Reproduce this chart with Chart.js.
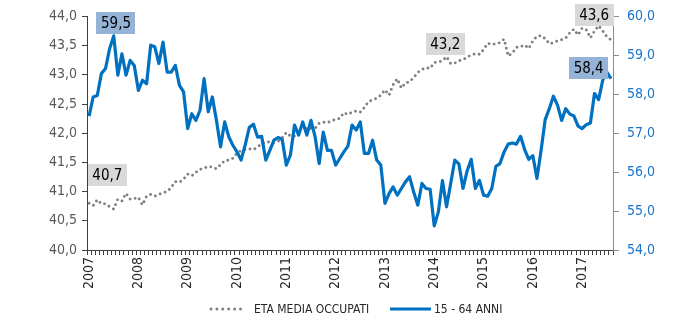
<!DOCTYPE html>
<html>
<head>
<meta charset="utf-8">
<script src="https://cdn.jsdelivr.net/npm/chart.js@4"></script>
<style>
  html, body { margin: 0; padding: 0; background: #ffffff; }
  #wrap { width: 700px; height: 326px; }
</style>
</head>
<body>
<div id="wrap"><canvas id="chart" width="700" height="326"></canvas></div>
<script>
// Monthly series, January 2007 - August 2017
const years = ['2007','2008','2009','2010','2011','2012','2013','2014','2015','2016','2017'];
const lastMonthOfLastYear = 8;

// Età media degli occupati (left axis)
const etaMedia = [
  40.80, 40.76, 40.86, 40.79, 40.79, 40.74, 40.70, 40.87, 40.84, 40.97, 40.87, 40.88,
  40.90, 40.77, 40.92, 40.95, 40.92, 40.95, 40.98, 41.00, 41.07, 41.17, 41.16, 41.21,
  41.30, 41.27, 41.33, 41.38, 41.40, 41.43, 41.42, 41.39, 41.46, 41.53, 41.54, 41.57,
  41.66, 41.70, 41.72, 41.73, 41.72, 41.76, 41.82, 41.85, 41.85, 41.84, 41.86, 41.92,
  42.01, 41.95, 41.95, 42.07, 42.08, 42.08, 42.08, 42.08, 42.17, 42.19, 42.18, 42.21,
  42.24, 42.25, 42.35, 42.32, 42.36, 42.38, 42.36, 42.44, 42.54, 42.57, 42.60, 42.65,
  42.74, 42.65, 42.83, 42.93, 42.77, 42.86, 42.88, 42.95, 43.04, 43.09, 43.12, 43.11,
  43.21, 43.22, 43.24, 43.31, 43.19, 43.20, 43.24, 43.26, 43.30, 43.34, 43.36, 43.35,
  43.43, 43.54, 43.52, 43.53, 43.55, 43.61, 43.32, 43.37, 43.47, 43.48, 43.51, 43.45,
  43.58, 43.66, 43.67, 43.62, 43.53, 43.55, 43.58, 43.60, 43.63, 43.72, 43.78, 43.68,
  43.80, 43.77, 43.63, 43.75, 43.84, 43.75, 43.65, 43.60
];

// Tasso di occupazione 15-64 anni (right axis)
const occupati1564 = [
  57.44, 57.93, 57.97, 58.53, 58.66, 59.17, 59.50, 58.49, 59.04, 58.49, 58.87, 58.74,
  58.10, 58.36, 58.27, 59.26, 59.22, 58.79, 59.34, 58.57, 58.57, 58.74, 58.23, 58.06,
  57.12, 57.50, 57.33, 57.59, 58.40, 57.55, 57.93, 57.33, 56.65, 57.29, 56.91, 56.69,
  56.52, 56.31, 56.70, 57.15, 57.23, 56.90, 56.92, 56.31, 56.56, 56.82, 56.89, 56.84,
  56.18, 56.44, 57.21, 56.95, 57.29, 56.95, 57.33, 56.91, 56.22, 57.03, 56.56, 56.56,
  56.18, 56.35, 56.52, 56.67, 57.21, 57.08, 57.29, 56.48, 56.48, 56.82, 56.31, 56.18,
  55.20, 55.45, 55.62, 55.41, 55.58, 55.75, 55.88, 55.49, 55.15, 55.71, 55.58, 55.56,
  54.62, 54.98, 55.78, 55.11, 55.71, 56.31, 56.21, 55.58, 56.03, 56.33, 55.58, 55.79,
  55.41, 55.38, 55.58, 56.15, 56.22, 56.52, 56.72, 56.75, 56.72, 56.92, 56.58, 56.33,
  56.42, 55.84, 56.56, 57.35, 57.63, 57.95, 57.72, 57.33, 57.63, 57.49, 57.44, 57.18,
  57.12, 57.22, 57.26, 58.02, 57.86, 58.36, 58.57, 58.40
];

const leftTicks = [40.0, 40.5, 41.0, 41.5, 42.0, 42.5, 43.0, 43.5, 44.0];
const rightTicks = [54.0, 55.0, 56.0, 57.0, 58.0, 59.0, 60.0];
const seriesNames = ['ETA MEDIA OCCUPATI', '15 - 64 ANNI'];

// Month categories "YYYY-MM"
const categories = [];
years.forEach((y, yi) => {
  const n = yi === years.length - 1 ? lastMonthOfLastYear : 12;
  for (let m = 1; m <= n; m++) categories.push(y + '-' + String(m).padStart(2, '0'));
});

const FONT = "'Liberation Sans Narrow', 'Arial Narrow', 'DejaVu Sans Condensed', sans-serif";
const BLUE = '#0070C0';
const GREY = '#7F7F7F';
const fmt = v => v.toFixed(1).replace('.', ',');

// Callout boxes: dataset index, point index, offset of box centre, fill
const callouts = [
  { ds: 0, i: 6,   dx: 2.3,   dy: -12.5, fill: '#95B3D7' },
  { ds: 0, i: 127, dx: -22.3, dy: -10.4, fill: '#95B3D7' },
  { ds: 1, i: 6,   dx: -6.4,  dy: -34.4, fill: '#D9D9D9' },
  { ds: 1, i: 86,  dx: 2.8,   dy: -17,   fill: '#D9D9D9' },
  { ds: 1, i: 127, dx: -16.8, dy: -24.4, fill: '#D9D9D9' }
];

const calloutPlugin = {
  id: 'callouts',
  afterDatasetsDraw(chart) {
    const ctx = chart.ctx;
    ctx.save();
    ctx.font = '15px ' + FONT;
    ctx.textAlign = 'center';
    ctx.textBaseline = 'middle';
    callouts.forEach(c => {
      const pt = chart.getDatasetMeta(c.ds).data[c.i];
      const val = chart.data.datasets[c.ds].data[c.i];
      const txt = fmt(val);
      const w = Math.max(33, ctx.measureText(txt).width + 9);
      const h = 22;
      const cx = pt.x + c.dx, cy = pt.y + c.dy;
      ctx.fillStyle = c.fill;
      ctx.fillRect(Math.round(cx - w / 2), Math.round(cy - h / 2), Math.round(w), h);
      ctx.fillStyle = '#000000';
      ctx.fillText(txt, cx, cy + 1);
    });
    ctx.restore();
  }
};

const legendPlugin = {
  id: 'customLegend',
  afterDraw(chart) {
    const ctx = chart.ctx;
    const y = 309;
    ctx.save();
    // dotted sample
    ctx.strokeStyle = GREY;
    ctx.lineWidth = 3;
    ctx.lineCap = 'round';
    ctx.setLineDash([0, 5.9]);
    ctx.beginPath();
    ctx.moveTo(211, y);
    ctx.lineTo(243, y);
    ctx.stroke();
    // solid sample
    ctx.setLineDash([]);
    ctx.lineCap = 'butt';
    ctx.strokeStyle = BLUE;
    ctx.beginPath();
    ctx.moveTo(390, y);
    ctx.lineTo(431, y);
    ctx.stroke();
    ctx.fillStyle = '#262626';
    ctx.font = '12px ' + FONT;
    ctx.textBaseline = 'middle';
    ctx.textAlign = 'left';
    ctx.fillText(seriesNames[0], 254, y + 1);
    ctx.fillText(seriesNames[1], 434, y + 1);
    ctx.restore();
  }
};

new Chart(document.getElementById('chart'), {
  type: 'line',
  data: {
    labels: categories,
    datasets: [
      {
        label: seriesNames[1],
        data: occupati1564,
        yAxisID: 'yR',
        borderColor: BLUE,
        borderWidth: 3.2,
        borderJoinStyle: 'round',
        pointRadius: 0,
        tension: 0,
        fill: false
      },
      {
        label: seriesNames[0],
        data: etaMedia,
        yAxisID: 'yL',
        borderColor: GREY,
        borderWidth: 2.9,
        borderDash: [0, 5.2],
        borderCapStyle: 'round',
        pointRadius: 0,
        tension: 0,
        fill: false
      }
    ]
  },
  options: {
    responsive: false,
    animation: false,
    devicePixelRatio: 1,
    layout: { padding: { top: 16, bottom: 0, left: 0, right: 0 } },
    plugins: { legend: { display: false }, tooltip: { enabled: false } },
    scales: {
      x: {
        type: 'category',
        offset: true,
        afterFit(s) { s.height = 76; },
        border: { display: true, color: '#404040', width: 1 },
        grid: { display: true, offset: true, drawOnChartArea: false, drawTicks: true, tickLength: 5, color: '#404040' },
        ticks: {
          autoSkip: false,
          maxRotation: 90,
          minRotation: 90,
          padding: 2,
          color: '#262626',
          font: { family: FONT, size: 14 },
          callback: (v, i) => categories[i].endsWith('-01') ? categories[i].slice(0, 4) : ''
        }
      },
      yL: {
        type: 'linear',
        position: 'left',
        min: leftTicks[0],
        max: leftTicks[leftTicks.length - 1],
        afterFit(s) { s.width = 87; },
        afterBuildTicks(s) { s.ticks = leftTicks.map(v => ({ value: v })); },
        border: { display: true, color: '#404040', width: 1 },
        grid: { drawOnChartArea: false, drawTicks: true, tickLength: 5, color: '#404040' },
        ticks: { padding: 5, color: '#595959', font: { family: FONT, size: 14 }, callback: v => fmt(v) }
      },
      yR: {
        type: 'linear',
        position: 'right',
        min: rightTicks[0],
        max: rightTicks[rightTicks.length - 1],
        afterFit(s) { s.width = 87; },
        afterBuildTicks(s) { s.ticks = rightTicks.map(v => ({ value: v })); },
        border: { display: true, color: '#8C8C8C', width: 1 },
        grid: { drawOnChartArea: false, drawTicks: true, tickLength: 6, color: '#8C8C8C' },
        ticks: { padding: 8, color: '#1874CD', font: { family: FONT, size: 14 }, callback: v => fmt(v) }
      }
    }
  },
  plugins: [calloutPlugin, legendPlugin]
});
</script>
</body>
</html>
